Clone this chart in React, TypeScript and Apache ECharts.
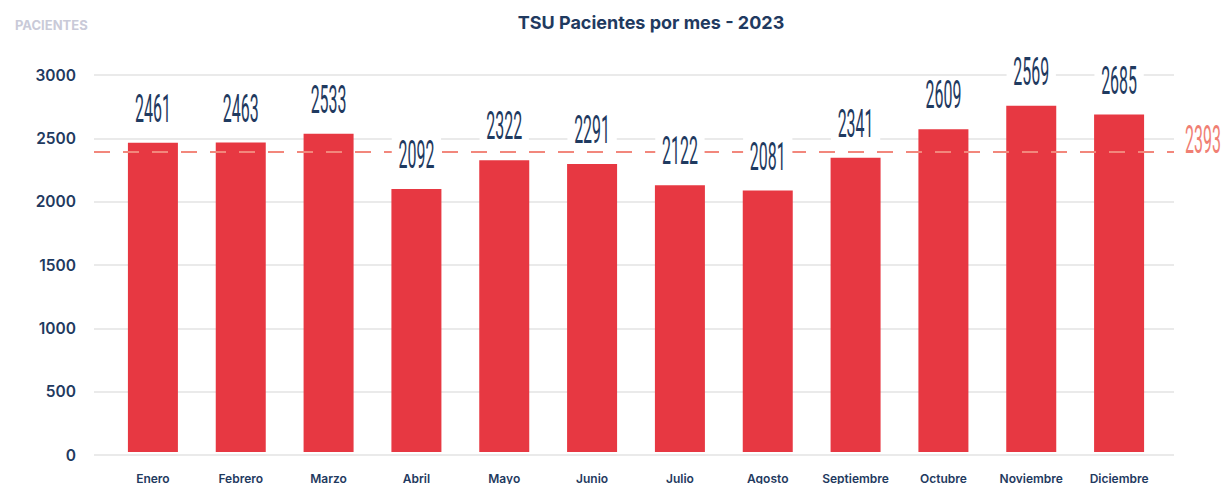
import React, { useEffect, useRef } from "react";
import * as echarts from "echarts";

const CATEGORIES = ["Enero", "Febrero", "Marzo", "Abril", "Mayo", "Junio", "Julio", "Agosto", "Septiembre", "Octubre", "Noviembre", "Diciembre"];
const PATIENTS = [2461, 2463, 2533, 2092, 2322, 2291, 2122, 2081, 2341, 2569, 2756, 2685];
const BAR_LABELS = [2461, 2463, 2533, 2092, 2322, 2291, 2122, 2081, 2341, 2609, 2569, 2685];
const AVERAGE = 2393;
const Y_MIN = 0;
const Y_MAX = 3000;
const Y_INTERVAL = 500;
const TITLE = "TSU Pacientes por mes - 2023";
const Y_NAME = "PACIENTES";

const NAVY = "#1f3a60";
const RED = "#e73842";
const SALMON = "#f2877c";
const GRID_LINE = "#e3e3e3";
const UI_FONT = "Inter, 'Open Sans', sans-serif";
const NUM_FONT = "Roboto, 'Liberation Sans', Arial, sans-serif";

export default function App() {
  const ref = useRef<HTMLDivElement>(null);

  useEffect(() => {
    if (!ref.current) return;
    const chart = echarts.init(ref.current, null, { renderer: "svg" });
    const option: any = {
      animation: false,
      backgroundColor: "#ffffff",
      title: [
        {
          text: TITLE,
          left: 646,
          top: 8,
          textAlign: "center",
          textStyle: { fontFamily: UI_FONT, fontSize: 18, fontWeight: 700, color: NAVY },
        },
        {
          text: Y_NAME,
          left: 10,
          top: 13,
          textStyle: { fontFamily: UI_FONT, fontSize: 13, fontWeight: 700, color: "#c9cad8" },
        },
      ],
      grid: [
        { left: 94, right: 49, top: 75, bottom: 29 },
        { left: 109, right: 60, top: 75, bottom: 29 },
      ],
      xAxis: [
        { type: "value", gridIndex: 0, min: 0, max: 1, show: false },
        {
          type: "category",
          gridIndex: 1,
          data: CATEGORIES,
          axisLine: { show: false },
          axisTick: { show: false },
          axisLabel: {
            margin: 20,
            fontFamily: UI_FONT,
            fontSize: 12,
            fontWeight: 600,
            color: NAVY,
            interval: 0,
          },
        },
      ],
      yAxis: [
        {
          type: "value",
          gridIndex: 0,
          min: Y_MIN,
          max: Y_MAX,
          interval: Y_INTERVAL,
          axisLine: { show: false },
          axisTick: { show: false },
          axisLabel: {
            margin: 18,
            fontFamily: UI_FONT,
            fontSize: 15.5,
            fontWeight: 600,
            color: NAVY,
            formatter: (v: number) => String(v),
          },
          splitLine: { lineStyle: { color: GRID_LINE, width: 1.5 } },
        },
        {
          type: "value",
          gridIndex: 1,
          min: Y_MIN,
          max: Y_MAX,
          interval: Y_INTERVAL,
          show: false,
          splitLine: { show: false },
        },
      ],
      series: [
        {
          type: "bar",
          xAxisIndex: 1,
          yAxisIndex: 1,
          data: PATIENTS,
          barWidth: 50,
          itemStyle: { color: RED },
          silent: true,
          z: 2,
        },
        {
          type: "custom",
          xAxisIndex: 0,
          yAxisIndex: 0,
          data: [[0, AVERAGE]],
          silent: true,
          clip: false,
          z: 3,
          renderItem: (params: any, api: any) => {
            const p0 = api.coord([0, api.value(1)]);
            const p1 = api.coord([1, api.value(1)]);
            return {
              type: "group",
              children: [
                {
                  type: "line",
                  shape: { x1: p0[0], y1: p0[1], x2: p1[0], y2: p1[1] },
                  style: { stroke: SALMON, lineWidth: 2, lineDash: [16, 13] },
                },
                {
                  type: "text",
                  x: p1[0] + 11,
                  y: p1[1] - 12,
                  scaleX: 0.42,
                  style: {
                    text: String(api.value(1)),
                    fontFamily: NUM_FONT,
                    fontWeight: 400,
                    fontSize: 38,
                    fill: "#f07f74",
                    align: "left",
                    verticalAlign: "middle",
                  },
                },
              ],
            };
          },
        },
        {
          type: "custom",
          xAxisIndex: 1,
          yAxisIndex: 1,
          data: PATIENTS.map((v, i) => [i, v, BAR_LABELS[i]]),
          encode: { x: 0, y: 1 },
          silent: true,
          clip: false,
          z: 4,
          renderItem: (params: any, api: any) => {
            const p = api.coord([api.value(0), api.value(1)]);
            return {
              type: "text",
              x: p[0],
              y: p[1] - 34,
              scaleX: 0.42,
              style: {
                text: String(api.value(2)),
                fontFamily: NUM_FONT,
                fontWeight: 400,
                fontSize: 38,
                fill: NAVY,
                align: "center",
                verticalAlign: "middle",
                backgroundColor: "#ffffff",
                padding: [0, 16],
              },
            };
          },
        },
      ],
    };
    chart.setOption(option);
    return () => chart.dispose();
  }, []);

  return (
    <div
      ref={ref}
      style={{ position: "fixed", left: 0, top: 0, width: 1223, height: 484, background: "#fff" }}
    />
  );
}
